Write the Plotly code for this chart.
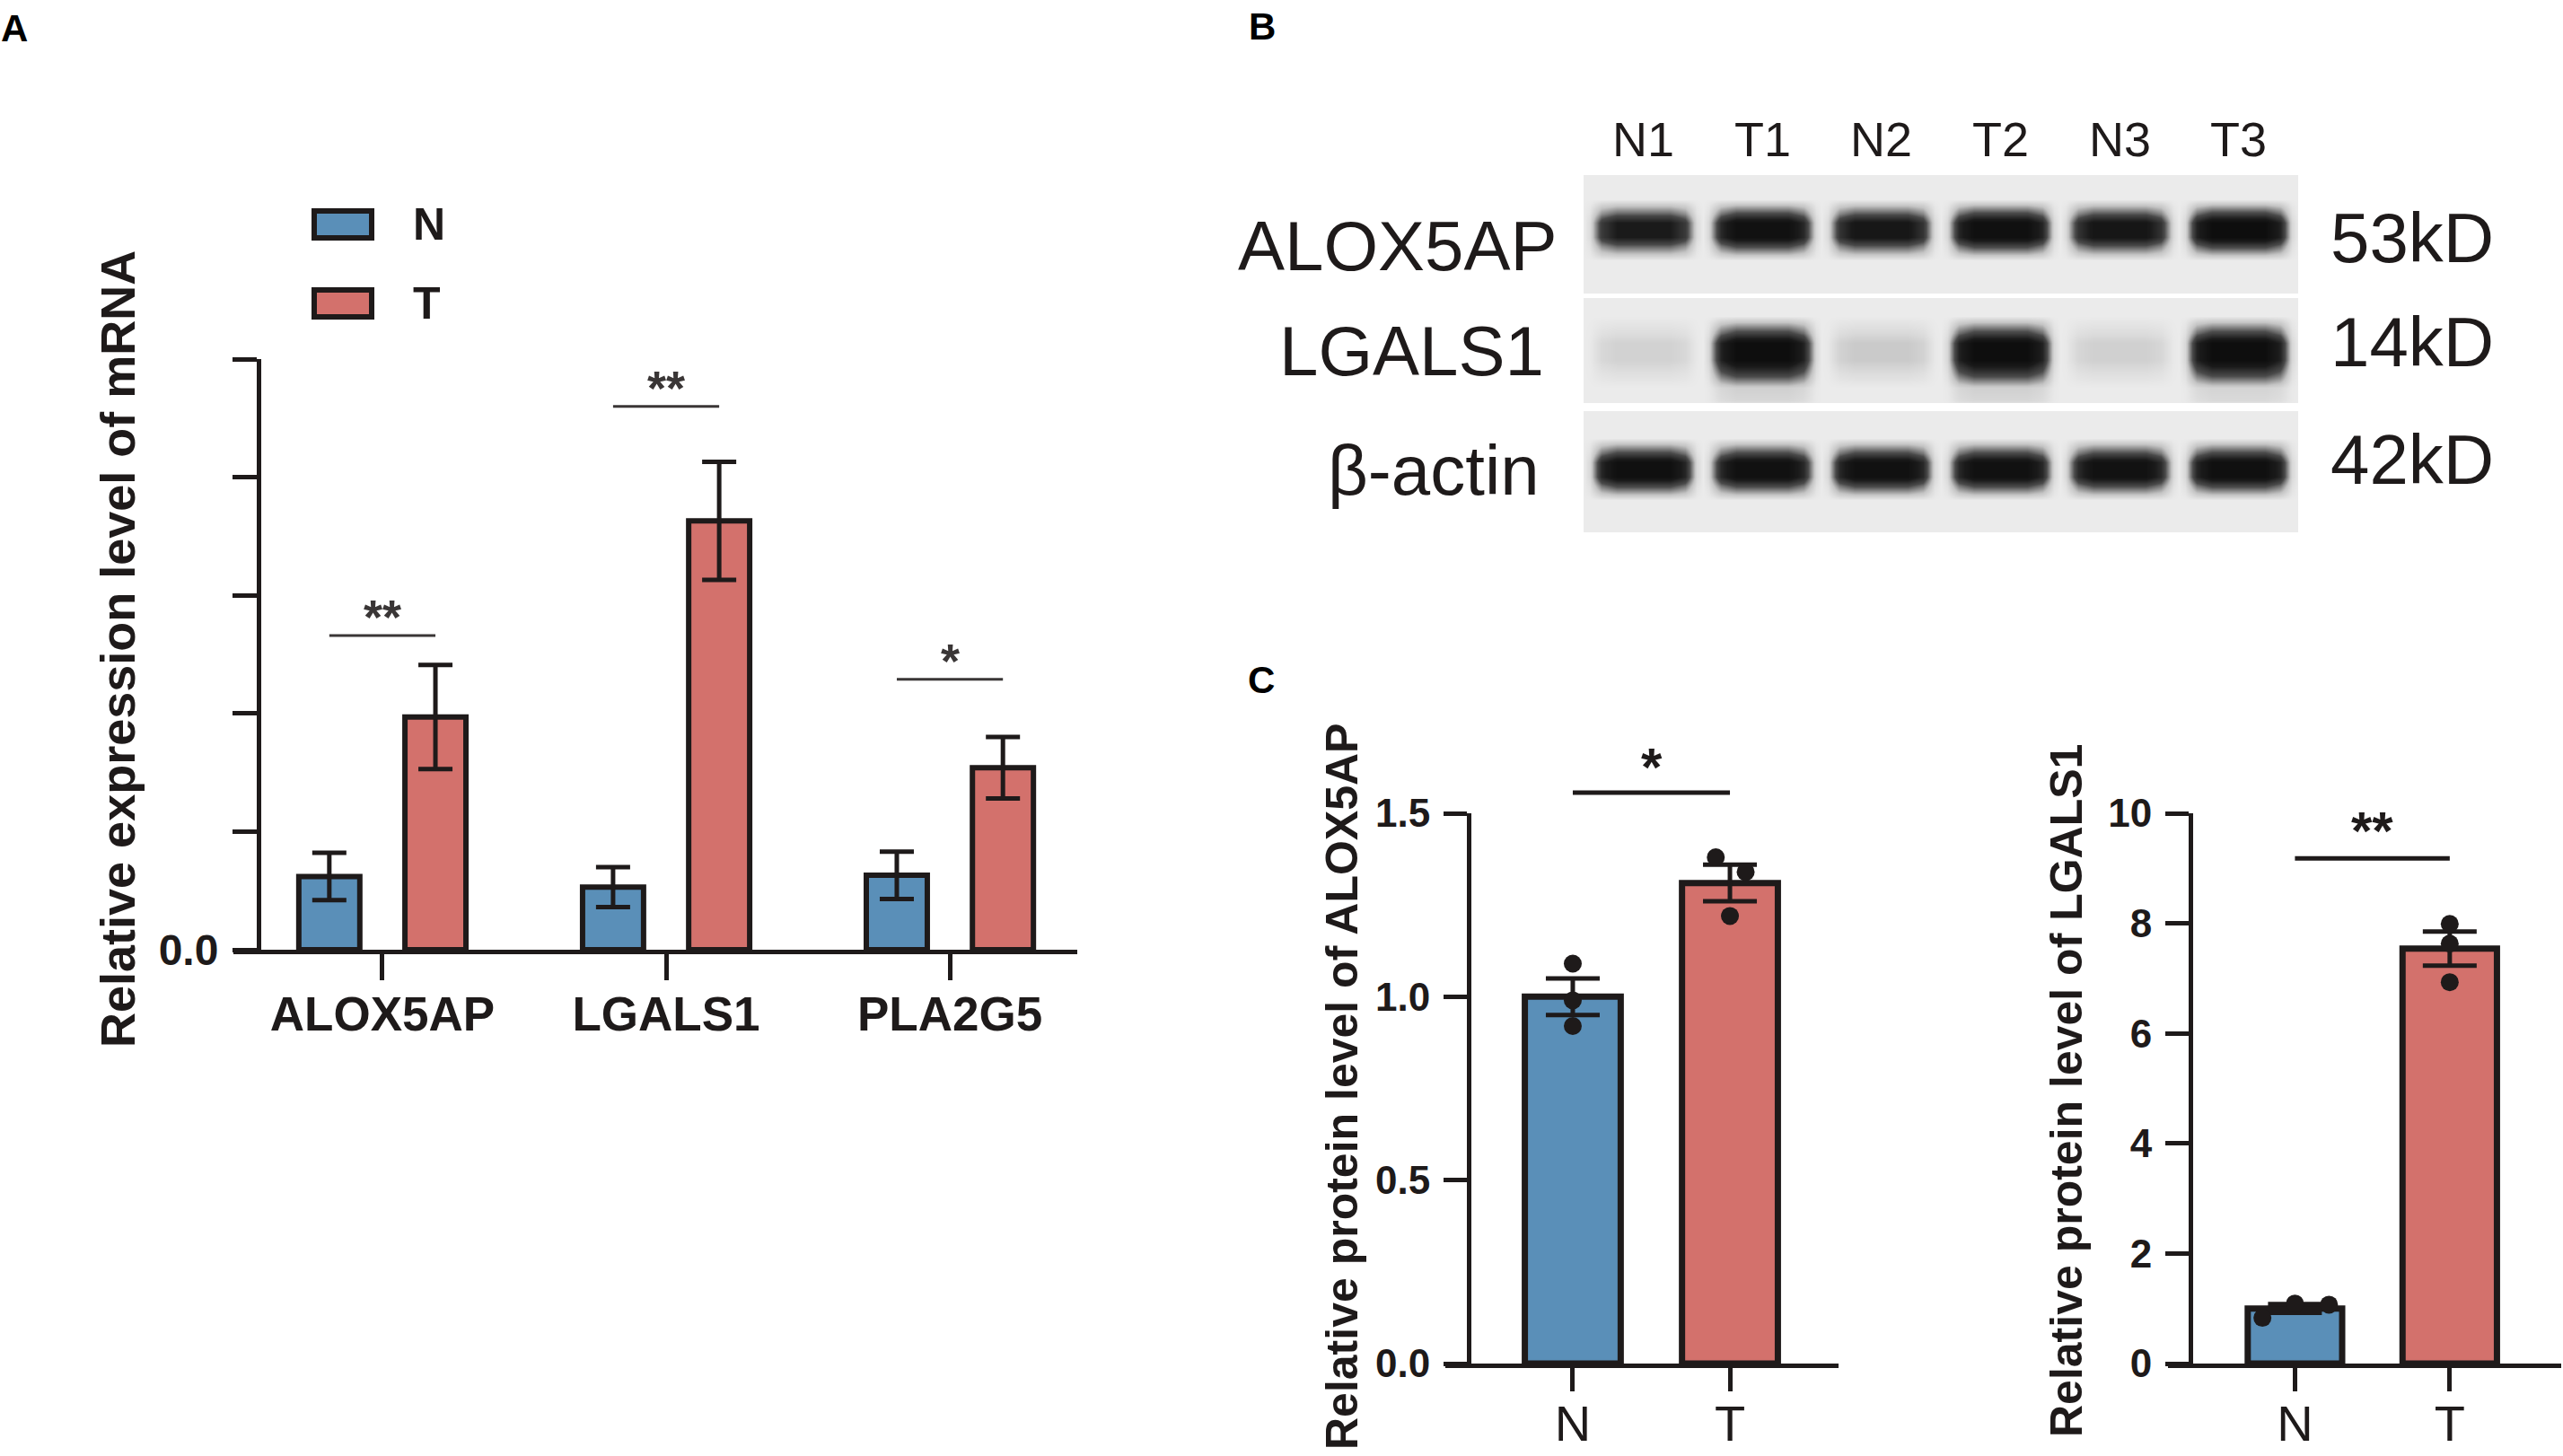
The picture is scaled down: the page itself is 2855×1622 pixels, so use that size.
import plotly.graph_objects as go

W, H = 2855, 1622
def fx(px): return px / W
def fy(py): return 1 - py / H

DARK = "#1e1a1a"
BLUE = "#5a8fb8"
RED = "#d3716c"
FONT = "Liberation Sans, Arial, sans-serif"

# ---------------- data ----------------
# Panel A: relative mRNA expression
genes = ["ALOX5AP", "LGALS1", "PLA2G5"]
mrna_N = [0.62, 0.53, 0.63]
mrna_N_err = [0.20, 0.17, 0.20]
mrna_T = [1.97, 3.63, 1.54]
mrna_T_err = [0.44, 0.50, 0.26]
mrna_sig_y = [2.66, 4.60, 2.29]
mrna_sig = ["**", "**", "*"]
mrna_yticks = [0, 1, 2, 3, 4, 5]
mrna_yticktext = ["0.0", "", "", "", "", ""]

# Panel B: western blot
lanes = ["N1", "T1", "N2", "T2", "N3", "T3"]
blot_rows = ["ALOX5AP", "LGALS1", "β-actin"]
blot_kd = ["53kD", "14kD", "42kD"]
band_alox = [0.80, 0.95, 0.85, 0.97, 0.86, 1.00]
band_lgals = [0.13, 1.00, 0.17, 1.00, 0.14, 1.00]
smear_lgals = [0.00, 0.40, 0.00, 0.40, 0.00, 0.35]
band_actin = [0.97, 0.95, 0.95, 0.95, 0.93, 0.97]

# Panel C: protein quantification
groups = ["N", "T"]
alox_mean = [1.00, 1.31]
alox_sem = [0.05, 0.05]
alox_pts = [[1.09, 0.99, 0.92], [1.38, 1.34, 1.22]]
alox_jit = [[0.0, 0.0, 0.0], [-0.09, 0.10, 0.0]]
alox_sig_y = 1.556
alox_sig = "*"
alox_ticks = [0, 0.5, 1.0, 1.5]
alox_ticktext = ["0.0", "0.5", "1.0", "1.5"]

lgals_mean = [1.00, 7.54]
lgals_sem = [0.08, 0.31]
lgals_pts = [[0.83, 1.09, 1.07], [7.99, 7.63, 6.93]]
lgals_jit = [[-0.21, 0.0, 0.22], [0.0, 0.0, 0.0]]
lgals_sig_y = 9.18
lgals_sig = "**"
lgals_ticks = [0, 2, 4, 6, 8, 10]

# axis ranges (layout)
RNG_XA, RNG_YA = [-0.525, 2.449], [0, 5]
RNG_X3, RNG_Y3 = [-0.811, 1.691], [0, 1.5]
RNG_X4, RNG_Y4 = [-0.82, 1.72], [0, 10]

def dom(v, rng):
    return (v - rng[0]) / (rng[1] - rng[0])

fig = go.Figure()

# ---------------- Panel A ----------------
GOFF = 0.187
BW = 0.215
xa = list(range(len(genes)))
for vals, errs, col, sgn in [(mrna_N, mrna_N_err, BLUE, -1), (mrna_T, mrna_T_err, RED, 1)]:
    fig.add_trace(go.Bar(
        x=xa, y=vals, width=BW, offset=sgn * GOFF - BW / 2,
        marker=dict(color=col, line=dict(color=DARK, width=6)),
        error_y=dict(type="data", array=errs, color=DARK, thickness=5, width=19),
        xaxis="x", yaxis="y", hoverinfo="skip"))

shapes = []
annotations = []
for i, (sy, st) in enumerate(zip(mrna_sig_y, mrna_sig)):
    shapes.append(dict(type="line", xref="x", yref="y", x0=i - GOFF, x1=i + GOFF,
                       y0=sy, y1=sy, line=dict(color="#3a3636", width=3)))
    annotations.append(dict(xref="x", yref="y", x=i, y=sy, text=st, showarrow=False,
                            yanchor="middle", yshift=21,
                            font=dict(family=FONT, size=54, color="#3a3636", weight="bold")))

# legend for A (drawn manually)
for yc, col, lab in [(250, BLUE, "N"), (338, RED, "T")]:
    shapes.append(dict(type="rect", xref="paper", yref="paper",
                       x0=fx(350), x1=fx(414), y0=fy(yc - 15), y1=fy(yc + 15),
                       fillcolor=col, line=dict(color=DARK, width=6)))
    annotations.append(dict(xref="paper", yref="paper", x=fx(458), y=fy(yc), text=lab,
                            showarrow=False, xanchor="left", yanchor="middle",
                            font=dict(family=FONT, size=50, color=DARK, weight="bold")))

annotations.append(dict(xref="paper", yref="paper", x=fx(131), y=fy(723),
                        text="Relative expression level of mRNA", textangle=-90,
                        showarrow=False, xanchor="center", yanchor="middle",
                        font=dict(family=FONT, size=54, color=DARK, weight="bold")))

# ---------------- Panel C ----------------
BWC = 0.61
for (means, sems, pts, jit, xax, yax) in [
        (alox_mean, alox_sem, alox_pts, alox_jit, "x3", "y3"),
        (lgals_mean, lgals_sem, lgals_pts, lgals_jit, "x4", "y4")]:
    fig.add_trace(go.Bar(
        x=[0, 1], y=means, width=BWC,
        marker=dict(color=[BLUE, RED], line=dict(color=DARK, width=7)),
        error_y=dict(type="data", array=sems, color=DARK, thickness=5, width=30),
        xaxis=xax, yaxis=yax, hoverinfo="skip"))
    px_, py_ = [], []
    for g in range(2):
        for v, j in zip(pts[g], jit[g]):
            px_.append(g + j)
            py_.append(v)
    fig.add_trace(go.Scatter(x=px_, y=py_, mode="markers",
                             marker=dict(size=20, color=DARK),
                             xaxis=xax, yaxis=yax, hoverinfo="skip"))

for sy, st, xr, yr, rx, ry, ys in [(alox_sig_y, alox_sig, "x3", "y3", RNG_X3, RNG_Y3, 29),
                                   (lgals_sig_y, lgals_sig, "x4", "y4", RNG_X4, RNG_Y4, 31)]:
    shapes.append(dict(type="line", xref=f"{xr} domain", yref=f"{yr} domain",
                       x0=dom(0, rx), x1=dom(1, rx), y0=dom(sy, ry), y1=dom(sy, ry),
                       line=dict(color=DARK, width=5)))
    annotations.append(dict(xref=f"{xr} domain", yref=f"{yr} domain", x=dom(0.5, rx),
                            y=dom(sy, ry), text=st, showarrow=False,
                            yanchor="middle", yshift=ys,
                            font=dict(family=FONT, size=60, color=DARK, weight="bold")))

annotations.append(dict(xref="paper", yref="paper", x=fx(1495), y=fy(1211),
                        text="Relative protein level of ALOX5AP", textangle=-90,
                        showarrow=False, xanchor="center", yanchor="middle",
                        font=dict(family=FONT, size=50, color=DARK, weight="bold")))
annotations.append(dict(xref="paper", yref="paper", x=fx(2302), y=fy(1215),
                        text="Relative protein level of LGALS1", textangle=-90,
                        showarrow=False, xanchor="center", yanchor="middle",
                        font=dict(family=FONT, size=50, color=DARK, weight="bold")))

# ---------------- Panel B (blot) ----------------
hprof = [(-0.5, 0.0), (-0.45, 0.1), (-0.35, 0.75), (-0.22, 1.0), (0.22, 1.0),
         (0.35, 0.75), (0.45, 0.1)]
hx = []
for k in range(len(lanes)):
    for dx, w in hprof:
        hx.append((k + 1 + dx, k, w))
hx.append((len(lanes) + 0.5, len(lanes) - 1, 0.0))
hx_x = [h[0] for h in hx]

def strip(intens, c, h, smear=None):
    ys = [0.0, c - 1.9 * h, c - h, c - 0.45 * h, c + 0.45 * h, c + h, c + 1.9 * h]
    wy = [0, 0, 0.55, 1, 1, 0.55, 0]
    ty = [0, 0, 0, 0, 0, 0.3, 0.35]
    if smear is not None:
        ys += [c + 2.6 * h, 1.0]
        wy += [0, 0]
        ty += [0.25, 0.12]
    else:
        ys += [1.0]
        wy += [0]
        ty += [0]
    z = []
    for a, b in zip(wy, ty):
        row = []
        for (_, k, wx) in hx:
            v = intens[k] * wx * a
            if smear is not None:
                v += smear[k] * wx * b
            row.append(min(v, 1.0))
        z.append(row)
    return ys, z

blot_cs = [[0, "#ebebeb"], [0.2, "#c4c4c4"], [0.5, "#4a4a4a"], [0.8, "#1a1a1a"], [1, "#0e0e0e"]]
strip_px = [(195, 327), (332, 449), (458, 593)]
strip_specs = [(band_alox, 0.46, 0.135, None), (band_lgals, 0.51, 0.18, smear_lgals),
               (band_actin, 0.48, 0.135, None)]
for n, ((top, bot), (intens, c, h, sm)) in enumerate(zip(strip_px, strip_specs)):
    ys, z = strip(intens, c, h, sm)
    fig.add_trace(go.Heatmap(x=hx_x, y=ys, z=z, zsmooth="best", colorscale=blot_cs,
                             zmin=0, zmax=1, showscale=False, hoverinfo="skip",
                             xaxis=f"x{5 + n}", yaxis=f"y{5 + n}"))

for k, lab in enumerate(lanes):
    annotations.append(dict(xref="x5", yref="paper", x=k + 1, y=fy(155), text=lab,
                            showarrow=False, xanchor="center", yanchor="middle",
                            font=dict(family=FONT, size=54, color=DARK)))
for lab, xr, yc in zip(blot_rows, [1737, 1722, 1717], [274, 391, 524]):
    annotations.append(dict(xref="paper", yref="paper", x=fx(xr), y=fy(yc), text=lab,
                            showarrow=False, xanchor="right", yanchor="middle",
                            font=dict(family=FONT, size=78, color=DARK)))
for lab, yc in zip(blot_kd, [265, 381, 512]):
    annotations.append(dict(xref="paper", yref="paper", x=fx(2594), y=fy(yc), text=lab,
                            showarrow=False, xanchor="left", yanchor="middle",
                            font=dict(family=FONT, size=78, color=DARK)))

# panel letters
for lab, x, y in [("A", 16, 31), ("B", 1406, 29), ("C", 1405, 757)]:
    annotations.append(dict(xref="paper", yref="paper", x=fx(x), y=fy(y), text=lab,
                            showarrow=False, xanchor="center", yanchor="middle",
                            font=dict(family=FONT, size=42, color="#000", weight="bold")))

# ---------------- axes ----------------
def xax(domain, rng, tickvals, ticktext, fsize, bold, anchor, ticklen, standoff):
    return dict(domain=domain, range=rng, tickvals=tickvals, ticktext=ticktext,
                anchor=anchor, showline=True, linewidth=5, linecolor=DARK,
                ticks="outside", ticklen=ticklen, tickwidth=5, tickcolor=DARK,
                showgrid=False, zeroline=False, ticklabelstandoff=standoff, automargin=False,
                tickfont=dict(family=FONT, size=fsize, color=DARK,
                              weight="bold" if bold else "normal"))

def yax(domain, rng, tickvals, ticktext, fsize, pos, ticklen):
    return dict(domain=domain, range=rng, tickvals=tickvals, ticktext=ticktext,
                anchor="free", position=pos, showline=True, linewidth=5, linecolor=DARK,
                ticks="outside", ticklen=ticklen, tickwidth=5, tickcolor=DARK,
                showgrid=False, zeroline=False, ticklabelstandoff=6, automargin=False,
                tickfont=dict(family=FONT, size=fsize, color=DARK, weight="bold"))

layout = dict(
    width=W, height=H, margin=dict(l=0, r=0, t=0, b=0, pad=0, autoexpand=False),
    paper_bgcolor="white", plot_bgcolor="rgba(0,0,0,0)",
    showlegend=False, barmode="overlay",
    shapes=shapes, annotations=annotations,
    xaxis=xax([fx(260), fx(1200)], RNG_XA, xa, genes, 53, True, "y", 29, -8),
    yaxis=yax([fy(1058), fy(400)], RNG_YA, mrna_yticks, mrna_yticktext, 48, fx(288), 27),
    xaxis3=xax([fx(1610), fx(2048)], RNG_X3, [0, 1], groups, 56, False, "y3", 26, -12),
    yaxis3=yax([fy(1519), fy(906)], RNG_Y3, alox_ticks, alox_ticktext, 44, fx(1636), 26),
    xaxis4=xax([fx(2415), fx(2853)], RNG_X4, [0, 1], groups, 56, False, "y4", 26, -12),
    yaxis4=yax([fy(1519), fy(906)], RNG_Y4, lgals_ticks, [str(t) for t in lgals_ticks], 44, fx(2440), 26),
)
for n, (top, bot) in enumerate(strip_px):
    layout[f"xaxis{5 + n}"] = dict(domain=[fx(1764), fx(2560)], range=[0.5, 6.5],
                                   visible=False, anchor=f"y{5 + n}")
    layout[f"yaxis{5 + n}"] = dict(domain=[fy(bot), fy(top)], range=[1, 0],
                                   visible=False, anchor=f"x{5 + n}")

fig.update_layout(**layout)
fig.write_html("out.html", config={"displayModeBar": False},
               post_script="document.body.style.margin='0';document.body.style.overflow='hidden';")
